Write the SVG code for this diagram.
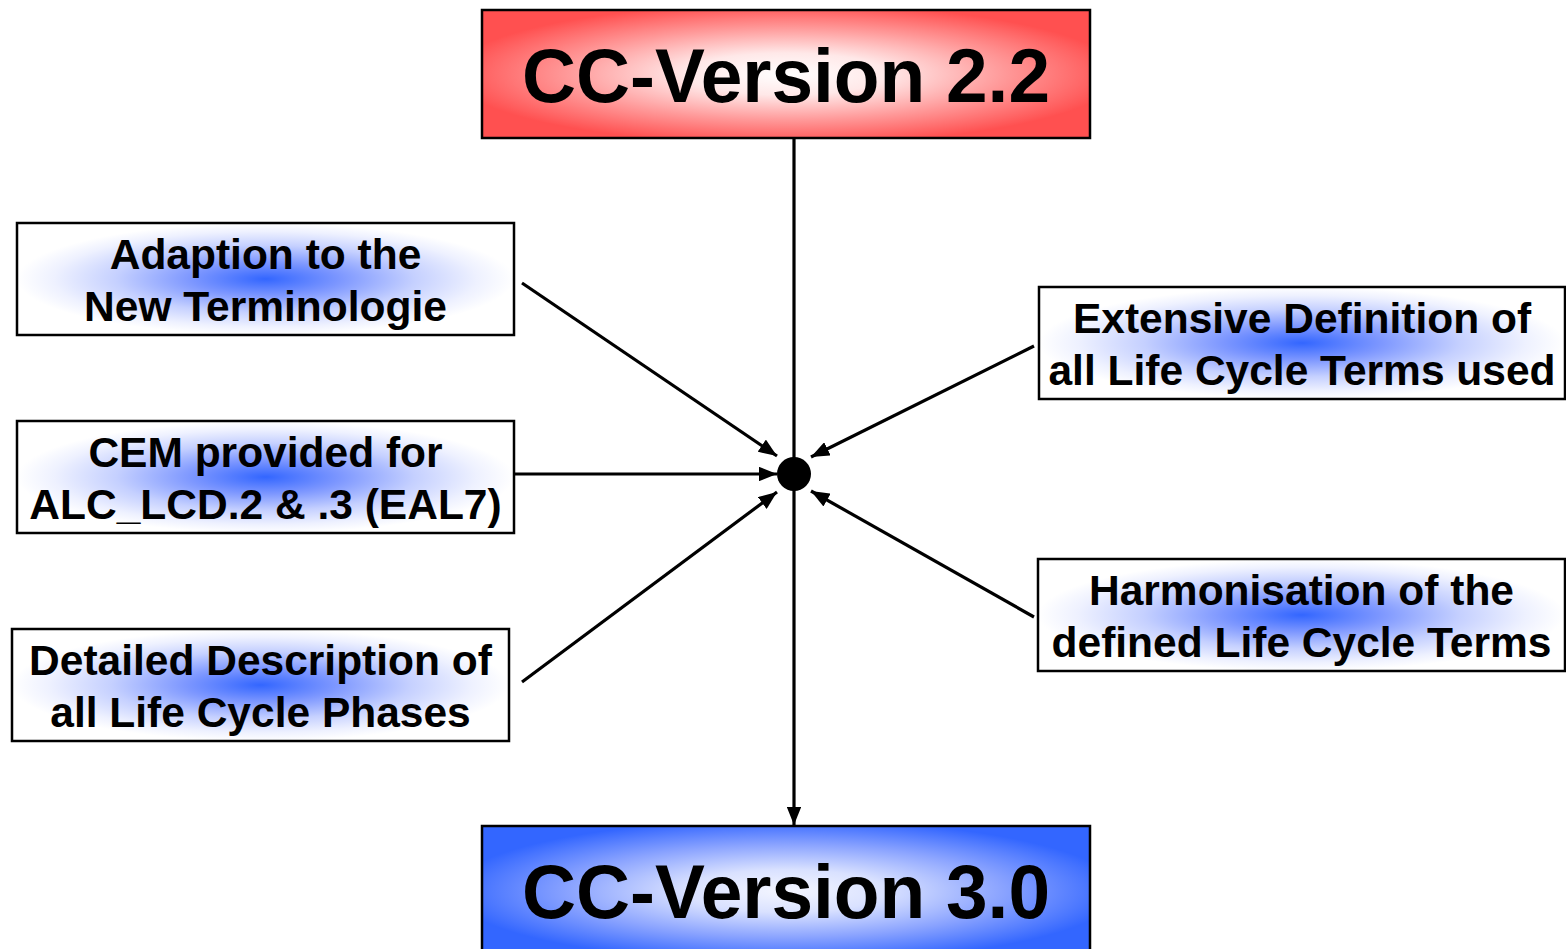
<svg xmlns="http://www.w3.org/2000/svg" width="1566" height="949" viewBox="0 0 1566 949">
<style>
.box{stroke:#000;stroke-width:2.5}
.big{font-family:"Liberation Sans",Arial,sans-serif;font-weight:bold;font-size:76px;text-anchor:middle;fill:#000}
.lbl{font-family:"Liberation Sans",Arial,sans-serif;font-weight:bold;font-size:42.5px;text-anchor:middle;fill:#000}
.con{stroke:#000;stroke-width:3.2;fill:none;marker-end:url(#arr)}
</style>
<defs>
<marker id="arr" viewBox="0 0 10 8" refX="10" refY="4" markerWidth="5.8" markerHeight="4.6" orient="auto" markerUnits="strokeWidth">
<path d="M0,0 L10,4 L0,8 z" fill="#000"/>
</marker>
<radialGradient id="gRed" cx="0.5" cy="0.5" r="0.55">
<stop offset="0" stop-color="#ffffff"/>
<stop offset="0.3" stop-color="#ffe8e8"/>
<stop offset="0.65" stop-color="#ff9a9a"/>
<stop offset="1" stop-color="#ff5050"/>
</radialGradient>
<radialGradient id="gBlue" cx="0.5" cy="0.5" r="0.55">
<stop offset="0" stop-color="#f4f6ff"/>
<stop offset="0.3" stop-color="#d9e1ff"/>
<stop offset="0.65" stop-color="#8aa3ff"/>
<stop offset="1" stop-color="#3366ff"/>
</radialGradient>
<radialGradient id="gSide" cx="0.5" cy="0.5" r="0.5">
<stop offset="0" stop-color="#3366ff"/>
<stop offset="0.3" stop-color="#7d97ff"/>
<stop offset="0.6" stop-color="#c5d0ff"/>
<stop offset="0.85" stop-color="#eef1ff"/>
<stop offset="1" stop-color="#ffffff"/>
</radialGradient>
</defs>
<g id="connectors">
<line x1="794" y1="138" x2="794" y2="825" class="con"/>
<line x1="522" y1="283" x2="777" y2="456" class="con"/>
<line x1="514" y1="474" x2="777" y2="474" class="con"/>
<line x1="522" y1="682" x2="777" y2="492" class="con"/>
<line x1="1034" y1="346" x2="811" y2="457" class="con"/>
<line x1="1034" y1="617" x2="811" y2="491" class="con"/>
<circle cx="794" cy="474" r="17" fill="#000"/>
</g>
<g id="v22">
<rect x="482" y="10" width="608" height="128" fill="url(#gRed)" class="box"/>
<text x="786" y="102" class="big" textLength="528" lengthAdjust="spacingAndGlyphs">CC-Version 2.2</text>
</g>
<g id="v30">
<rect x="482" y="826" width="608" height="130" fill="url(#gBlue)" class="box"/>
<text x="786" y="918" class="big" textLength="528" lengthAdjust="spacingAndGlyphs">CC-Version 3.0</text>
</g>
<g id="adaption">
<rect x="17" y="223" width="497" height="112" fill="url(#gSide)" class="box"/>
<text x="265.5" y="269" class="lbl">Adaption to the</text>
<text x="265.5" y="321" class="lbl">New Terminologie</text>
</g>
<g id="cem">
<rect x="17" y="421" width="497" height="112" fill="url(#gSide)" class="box"/>
<text x="265.5" y="467" class="lbl">CEM provided for</text>
<text x="265.5" y="519" class="lbl">ALC_LCD.2 &amp; .3 (EAL7)</text>
</g>
<g id="detailed">
<rect x="12" y="629" width="497" height="112" fill="url(#gSide)" class="box"/>
<text x="260.5" y="675" class="lbl">Detailed Description of</text>
<text x="260.5" y="727" class="lbl">all Life Cycle Phases</text>
</g>
<g id="extensive">
<rect x="1039" y="287" width="526" height="112" fill="url(#gSide)" class="box"/>
<text x="1302" y="333" class="lbl">Extensive Definition of</text>
<text x="1302" y="385" class="lbl">all Life Cycle Terms used</text>
</g>
<g id="harmonisation">
<rect x="1038" y="559" width="527" height="112" fill="url(#gSide)" class="box"/>
<text x="1301.5" y="605" class="lbl">Harmonisation of the</text>
<text x="1301.5" y="657" class="lbl">defined Life Cycle Terms</text>
</g>
</svg>
